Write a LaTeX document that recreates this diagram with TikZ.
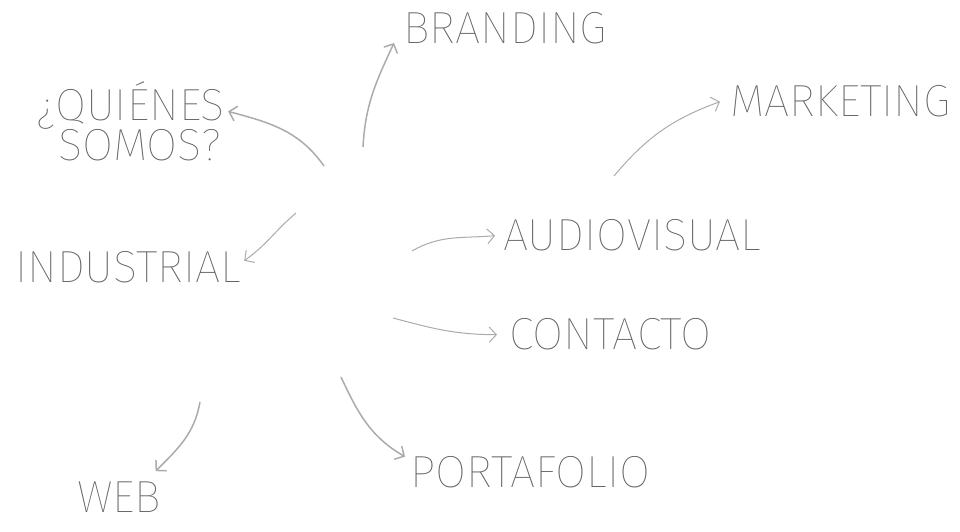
\documentclass[tikz,border=0pt]{standalone}
\usepackage{fontspec}
\newfontfamily\fina{Fira Sans}[UprightFont={* Thin}]
\usetikzlibrary{positioning, arrows.meta}

\begin{document}
\begin{tikzpicture}[
    x=1pt, y=1pt,
    seccion/.style={inner sep=0pt, anchor=base west, text=black!62,
                    font=\fina\fontsize{45}{34}\selectfont},
    flecha/.style={-{Straight Barb[length=7pt, width=15pt]}, line width=1.5pt, black!33},
    flechafina/.style={flecha, line width=1pt}
]
\useasboundingbox (0,0) rectangle (960,532);

% Secciones
\node[seccion] (branding) at (403,488) {BRANDING};
\node[seccion, align=left] (quienes) at (36,371) {¿QUIÉNES\\\hspace*{22pt}SOMOS?};
\node[seccion] (marketing) at (730,415) {MARKETING};
\node[seccion] (audiovisual) at (503,281) {AUDIOVISUAL};
\node[seccion] (industrial) at (15,249) {INDUSTRIAL};
\node[seccion] (contacto) at (509,182) {CONTACTO};
\node[seccion] (portafolio) at (410,44) {PORTAFOLIO};
\node[seccion] (web) at (77,19) {WEB};

% Origenes
\coordinate (oBranding) at (363,385);
\coordinate (oQuienes) at (324,366);
\coordinate (oMarketing) at (614,356);
\coordinate (oAudio) at (412,281);
\coordinate (oIndustrial) at (296,319);
\coordinate (oContacto) at (393,214);
\coordinate (oPortafolio) at (341,155);
\coordinate (oWeb) at (200,130);

% Flechas
\draw[flecha] (oBranding) to[out=87, in=245] ([shift={(-9,1)}]branding.base west);
\draw[flecha] (oQuienes) to[out=125, in=-15] ([shift={(3,10)}]quienes.east);
\draw[flechafina] (oMarketing) to[out=50, in=200] ([xshift=-10]marketing.west);
\draw[flechafina] (oAudio) to[out=30, in=185] ([xshift=-8]audiovisual.west);
\draw[flechafina] (oIndustrial) to[out=220, in=35] ([shift={(3,-9)}]industrial.north east);
\draw[flechafina] (oContacto) to[out=-15, in=180] ([xshift=-12]contacto.west);
\draw[flecha] (oPortafolio) to[out=-65, in=150] ([xshift=-5]portafolio.north west);
\draw[flecha] (oWeb) to[out=-100, in=45] ([shift={(-6,11)}]web.north east);

\end{tikzpicture}
\end{document}
